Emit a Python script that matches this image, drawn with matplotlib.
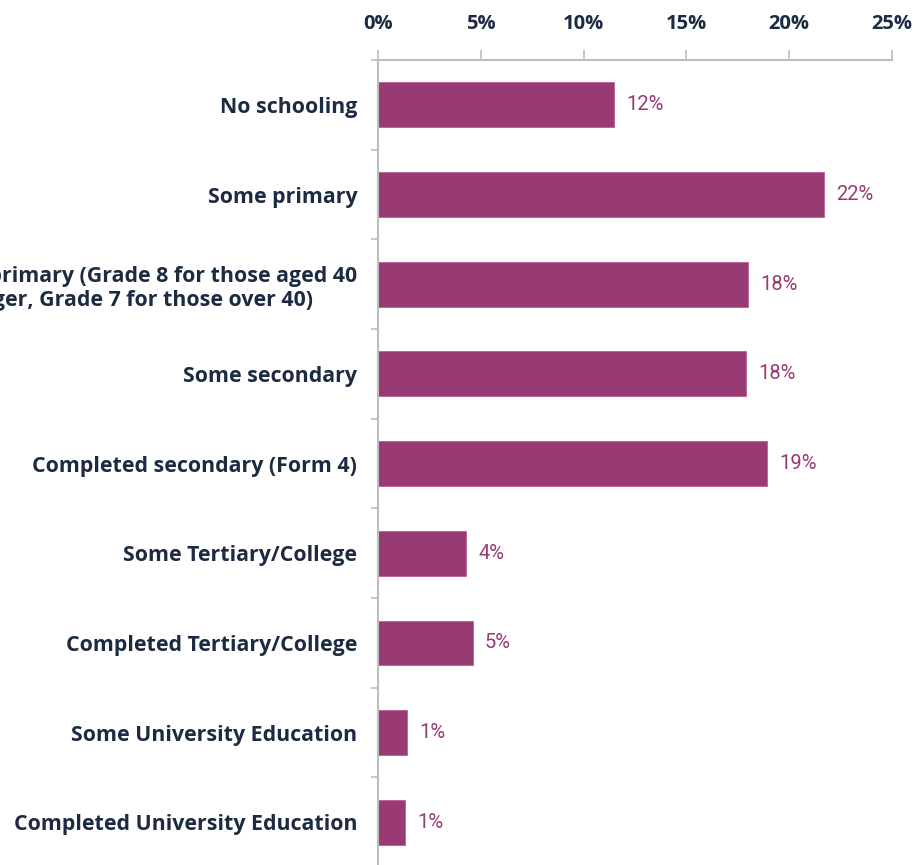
import matplotlib
matplotlib.use("Agg")
import matplotlib.pyplot as plt
import numpy as np
from matplotlib.ticker import FuncFormatter

categories = [
    "No schooling",
    "Some primary",
    "Completed primary (Grade 8 for those aged 40\nor younger, Grade 7 for those over 40)",
    "Some secondary",
    "Completed secondary (Form 4)",
    "Some Tertiary/College",
    "Completed Tertiary/College",
    "Some University Education",
    "Completed University Education",
]
shares = [11.5, 21.7, 18.0, 17.9, 18.9, 4.3, 4.6, 1.4, 1.3]
x_ticks = [0, 5, 10, 15, 20, 25]

bar_color = "#983a74"
text_color = "#1c2b42"
axis_color = "#bdbdbd"

plt.rcParams["font.family"] = ["Open Sans", "DejaVu Sans"]
value_font = ["Roboto", "DejaVu Sans"]

fig = plt.figure(figsize=(9.16, 8.65), dpi=100)
ax = fig.add_axes([0.4127, -0.0025, 0.5611, 0.9331])

y = np.arange(len(categories))
ax.barh(y, shares, height=0.5, color=bar_color, edgecolor="#b85d93", linewidth=0.6)

for yi, v in zip(y, shares):
    ax.text(v + 0.6, yi, f"{v:.0f}%", va="center", ha="left",
            fontsize=14.5, color=bar_color, family=value_font)

ax.set_xlim(0, 25)
ax.set_ylim(len(categories) - 0.5, -0.5)

ax.xaxis.tick_top()
ax.set_xticks(x_ticks)
ax.xaxis.set_major_formatter(FuncFormatter(lambda v, p: f"{v:.0f}%"))
ax.tick_params(axis="x", length=7, width=1.2, color=axis_color, pad=12,
               labelsize=14.5, labelcolor=text_color)
for lab in ax.get_xticklabels():
    lab.set_fontweight("bold")

# category boundaries get the small ticks, labels sit at bar centres
ax.set_yticks(np.arange(-0.5, len(categories)), minor=False)
ax.set_yticklabels([])
ax.set_yticks(y, minor=True)
ax.set_yticklabels(categories, minor=True)
ax.tick_params(axis="y", which="major", length=5, width=1.2, color=axis_color)
ax.tick_params(axis="y", which="minor", length=0, pad=15,
               labelsize=15.4, labelcolor=text_color)
for lab in ax.get_yticklabels(minor=True):
    lab.set_fontweight("bold")
    lab.set_multialignment("center")

for side in ["right", "bottom"]:
    ax.spines[side].set_visible(False)
for side in ["top", "left"]:
    ax.spines[side].set_color(axis_color)
    ax.spines[side].set_linewidth(1.5)

fig.savefig("out.png", dpi=100)
